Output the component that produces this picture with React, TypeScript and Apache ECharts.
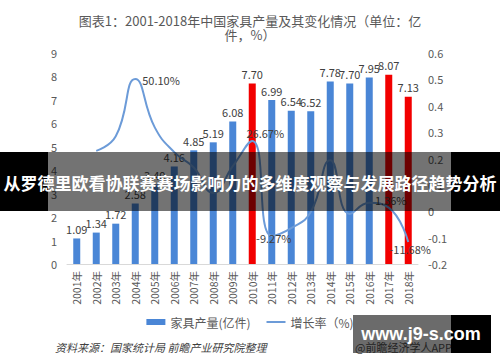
import React, { useEffect, useRef } from "react";
import * as echarts from "echarts";

const years = ["2001年","2002年","2003年","2004年","2005年","2006年","2007年","2008年","2009年","2010年","2011年","2012年","2013年","2014年","2015年","2016年","2017年","2018年"];
const output = [1.09, 1.34, 1.72, 2.58, 3.40, 4.16, 4.85, 5.19, 6.08, 7.70, 6.99, 6.54, 6.52, 7.78, 7.70, 7.95, 8.07, 7.13];
const growth = [null, 0.229, 0.284, 0.501, 0.318, 0.224, 0.166, 0.070, 0.171, 0.2667, -0.0927, -0.064, -0.003, 0.193, -0.010, 0.032, 0.0136, -0.1168];
const growthLabels: Record<number, string> = { 3: "50.10%", 9: "26.67%", 10: "-9.27%", 16: "1.36%", 17: "-11.68%" };
const redYears = ["2010年", "2017年", "2018年"];
const leftTicks = { min: 0, max: 9, interval: 1 };
const rightTicks = { min: -0.2, max: 0.6, interval: 0.1 };

const titleText = "图表1：2001-2018年中国家具产量及其变化情况（单位：亿\n件，%）";
const bannerText = "从罗德里欧看协联赛赛场影响力的多维度观察与发展路径趋势分析";
const sourceText = "资料来源：国家统计局 前瞻产业研究院整理";
const siteText = "www.j9-s.com";
const appText = "@前瞻经济学人APP";

const FONT = "'Noto Sans CJK SC', 'Noto Sans', sans-serif";
const BLUE = "#4a86d6";
const LINE = "#6c9bd8";

export default function App() {
  const ref = useRef<HTMLDivElement>(null);
  useEffect(() => {
    document.body.style.margin = "0";
    const chart = echarts.init(ref.current!, null, { renderer: "svg" });
    const labelPos: Record<number, any> = {
      3: { position: "right", offset: [2, 1] },
      9: { position: "top", offset: [13, 3] },
      10: { position: "inside", offset: [2, 2] },
      16: { position: "top", offset: [2, 3] },
      17: { position: "inside", offset: [2, 7] },
    };
    const lineData = growth.map((v, i) =>
      growthLabels[i]
        ? {
            value: v,
            label: {
              show: true,
              formatter: growthLabels[i],
              color: "#404040",
              fontSize: 11,
              fontFamily: FONT,
              ...labelPos[i],
            },
          }
        : v
    );
    const barData = output.map((v, i) => ({
      value: v,
      itemStyle: { color: redYears.includes(years[i]) ? "#f20000" : BLUE },
    }));
    chart.setOption({
      animation: false,
      textStyle: { fontFamily: FONT },
      title: {
        text: titleText,
        left: "center",
        top: 8,
        textStyle: { fontSize: 13, fontWeight: "normal", color: "#595959", lineHeight: 14, fontFamily: FONT },
      },
      legend: {
        top: 311,
        left: "center",
        itemWidth: 19,
        itemHeight: 6,
        itemGap: 16,
        textStyle: { fontSize: 12, color: "#595959", fontFamily: FONT },
        data: [
          { name: "家具产量(亿件)", icon: "rect", itemStyle: { color: BLUE } },
          { name: "增长率（%)", icon: "path://M0,0H19V2H0Z", itemStyle: { color: LINE } },
        ],
      },
      grid: { left: 67, right: 82, top: 53, bottom: 98 },
      xAxis: {
        type: "category",
        data: years,
        axisLine: { lineStyle: { color: "#d9d9d9" } },
        axisTick: { show: false },
        axisLabel: { rotate: 90, fontSize: 10.5, color: "#595959", margin: 7, fontFamily: FONT },
      },
      yAxis: [
        {
          type: "value",
          ...leftTicks,
          splitLine: { show: false },
          axisLine: { show: false },
          axisLabel: { fontSize: 11, color: "#595959", margin: 10 },
        },
        {
          type: "value",
          ...rightTicks,
          splitLine: { show: false },
          axisLine: { show: false },
          axisLabel: {
            fontSize: 11,
            color: "#595959",
            margin: 10,
            formatter: (v: number) => String(Number(v.toFixed(1))),
          },
        },
      ],
      series: [
        {
          name: "家具产量(亿件)",
          type: "bar",
          data: barData,
          barWidth: 7,
          itemStyle: { color: BLUE },
          label: {
            show: true,
            position: "top",
            fontSize: 11,
            color: "#404040",
            distance: 4,
            formatter: (p: any) => Number(p.value).toFixed(2),
          },
        },
        {
          name: "增长率（%)",
          type: "line",
          yAxisIndex: 1,
          data: lineData,
          smooth: 0.5,
          symbol: "circle",
          symbolSize: 0,
          showSymbol: true,
          lineStyle: { color: LINE, width: 2 },
          itemStyle: { color: LINE },
          z: 5,
        },
      ],
      graphic: [
        {
          type: "text",
          left: 55,
          top: 341,
          style: { text: sourceText, fontSize: 11, fontStyle: "italic", fill: "#404040", fontFamily: FONT },
        },
        {
          type: "text",
          left: 355,
          top: 341,
          style: { text: appText, fontSize: 11, fill: "#555", fontFamily: FONT },
          z: 10,
        },
        { type: "rect", shape: { x: 353, y: 315, width: 98, height: 38 }, style: { fill: "rgba(0,0,0,0.58)" }, z: 20 },
        { type: "rect", shape: { x: 451, y: 315, width: 40, height: 38 }, style: { fill: "#000" }, z: 20 },
        {
          type: "text",
          x: 421,
          y: 334,
          style: {
            text: siteText,
            fontSize: 18,
            fontWeight: "bold",
            fill: "#fff",
            align: "center",
            verticalAlign: "middle",
            fontFamily: "'Liberation Sans', sans-serif",
          },
          z: 21,
        },
        { type: "rect", shape: { x: 0, y: 152, width: 48, height: 59 }, style: { fill: "#000" }, z: 20 },
        { type: "rect", shape: { x: 451, y: 152, width: 49, height: 59 }, style: { fill: "#000" }, z: 20 },
        { type: "rect", shape: { x: 48, y: 152, width: 403, height: 59 }, style: { fill: "rgba(0,0,0,0.55)" }, z: 20 },
        {
          type: "text",
          x: 250,
          y: 182,
          style: {
            text: bannerText,
            fontSize: 17,
            fontWeight: "bold",
            fill: "#fff",
            align: "center",
            verticalAlign: "middle",
            fontFamily: "'Noto Sans CJK SC', sans-serif",
          },
          z: 21,
        },
      ],
    });
    return () => chart.dispose();
  }, []);
  return <div ref={ref} style={{ width: 500, height: 362 }} />;
}
